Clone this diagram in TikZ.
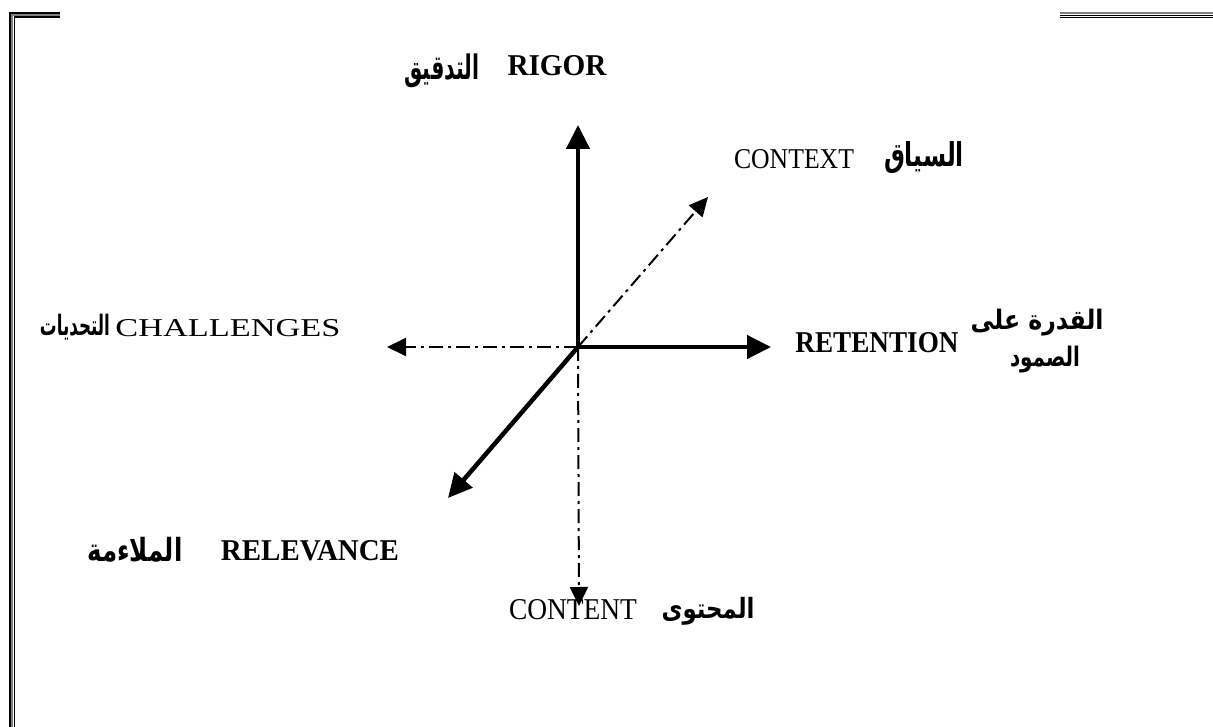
\documentclass[tikz,border=0pt]{standalone}
\usepackage{fontspec}
\setmainfont{Liberation Serif}
\newfontfamily\arabicfont[Script=Arabic]{DejaVu Sans}
\TeXXeTstate=1
\usetikzlibrary{arrows.meta}
\newcommand\latbox[3]{\resizebox{#1pt}{#2pt}{#3}}
\newcommand\arbbox[3]{\resizebox*{#1pt}{#2pt}{\arabicfont\bfseries #3}}
\begin{document}
\begin{tikzpicture}[x=1pt,y=-1pt,
  solidarrow/.style={line width=4.5pt,-{Triangle[length=24pt,width=23pt]}},
  dasharrow/.style={line width=2pt,dash pattern=on 14pt off 5pt on 3pt off 5pt,-{Triangle[length=19pt,width=18pt]}},
  lbl/.style={inner sep=0pt,anchor=center},
  frameblack/.style={black,line width=1.2pt},
  framegray/.style={gray,line width=2pt}]
\useasboundingbox[fill=white] (0,0) rectangle (1213,727);
% frame
\draw[frameblack] (10,727) -- (10,13) -- (60,13);
\draw[framegray] (12.3,727) -- (12.3,15) -- (60,15);
\draw[frameblack] (14.3,727) -- (14.3,17) -- (60,17);
\draw[framegray] (1060,13.3) -- (1213,13.3);
\draw[frameblack] (1060,15.5) -- (1213,15.5);
\draw[frameblack] (1060,17.3) -- (1213,17.3);
% axes
\coordinate (O) at (578,347);
\coordinate (tipUp) at (578,125);
\coordinate (tipRight) at (771,347);
\coordinate (tipLeft) at (387,347);
\coordinate (tipDown) at (579,606);
\coordinate (tipCtx) at (708,197);
\coordinate (tipRel) at (448,498);
\draw[dasharrow] (O) -- (tipLeft);
\draw[dasharrow] (O) -- (tipDown);
\draw[dasharrow] (O) -- (tipCtx);
\draw[solidarrow] (O) -- (tipUp);
\draw[solidarrow] (O) -- (tipRight);
\draw[solidarrow] (O) -- (tipRel);
% labels
\node[lbl] (rigor) at (557,66) {\latbox{99}{20}{\bfseries RIGOR}};
\node[lbl] (rigorAr) at (442,71) {\arbbox{75}{34}{\beginR التدقيق\endR}};
\node[lbl] (context) at (794,159) {\latbox{120}{19}{CONTEXT}};
\node[lbl] (contextAr) at (924,158) {\arbbox{80}{32}{\beginR السياق\endR}};
\node[lbl] (chall) at (228,328) {\latbox{225}{17}{CHALLENGES}};
\node[lbl] (challAr) at (75,327) {\arbbox{70}{26}{\beginR التحديات\endR}};
\node[lbl] (ret) at (877,343) {\latbox{163}{20}{\bfseries RETENTION}};
\node[lbl] (retAr1) at (1037,323) {\arbbox{133}{27}{\beginR القدرة على\endR}};
\node[lbl] (retAr2) at (1045,360) {\arbbox{70}{27}{\beginR الصمود\endR}};
\node[lbl] (rel) at (310,551) {\latbox{178}{20}{\bfseries RELEVANCE}};
\node[lbl] (relAr) at (135,550) {\arbbox{95}{25}{\beginR الملاءمة\endR}};
\node[lbl] (cont) at (573,610) {\latbox{128}{20}{CONTENT}};
\node[lbl] (contAr) at (708,611) {\arbbox{93}{28}{\beginR المحتوى\endR}};
\end{tikzpicture}
\end{document}
